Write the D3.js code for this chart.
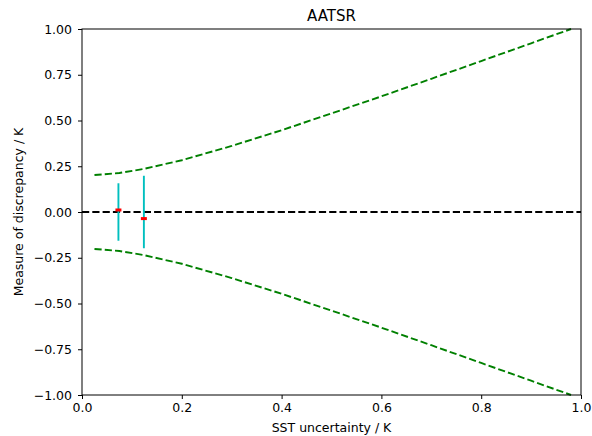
<!DOCTYPE html>
<html>
<head>
<meta charset="utf-8">
<script src="https://cdn.jsdelivr.net/npm/d3@7"></script>
<style>
  body { margin: 0; background: #fff; }
  text { font-family: "DejaVu Sans", sans-serif; fill: #000; }
</style>
</head>
<body>
<div id="viz"></div>
<script>
"use strict";

const w = 592;
const h = 436;

// envelope curves
const envX = [0.025, 0.075, 0.125, 0.2, 0.3, 0.4, 0.5, 0.6, 0.7, 0.8, 0.9, 0.98];
const envUpper = [0.202, 0.213, 0.236, 0.283, 0.361, 0.447, 0.539, 0.632, 0.728, 0.825, 0.922, 1.0];
const envLower = [-0.202, -0.213, -0.236, -0.283, -0.361, -0.447, -0.539, -0.632, -0.728, -0.825, -0.922, -1.0];

// error bars and points
const ptX = [0.073, 0.124];
const ptY = [0.011, -0.036];
const barHalf = [0.157, 0.198];

const xTicks = [0.0, 0.2, 0.4, 0.6, 0.8, 1.0];
const yTicks = [-1.0, -0.75, -0.5, -0.25, 0.0, 0.25, 0.5, 0.75, 1.0];

const margin = { left: 82, right: 11, top: 29, bottom: 41 };
const dash = "7.2,3.1";

const svg = d3.select("#viz")
  .append("svg")
  .attr("width", w)
  .attr("height", h)

const x = d3.scaleLinear().domain([0, 1]).range([margin.left, w - margin.right]);
const y = d3.scaleLinear().domain([-1, 1]).range([h - margin.bottom, margin.top]);

// x axis
const xAxis = svg.append("g")
  .attr("transform", `translate(0,${h - margin.bottom})`)
  .call(d3.axisBottom(x).tickValues(xTicks).tickFormat(d3.format(".1f")).tickSizeOuter(0).tickSize(4).tickPadding(4))
xAxis.select(".domain").remove()
xAxis.selectAll("text").attr("font-size", 12.5).attr("font-family", "DejaVu Sans")

// y axis
const yAxis = svg.append("g")
  .attr("transform", `translate(${margin.left},0)`)
  .call(d3.axisLeft(y).tickValues(yTicks).tickFormat(d3.format(".2f")).tickSizeOuter(0).tickSize(4).tickPadding(6))
yAxis.select(".domain").remove()
yAxis.selectAll("text").attr("font-size", 12.5).attr("font-family", "DejaVu Sans")
  .text(d => d3.format(".2f")(d).replace("-", "\u2212"))

const line = d3.line().x(d => x(d[0])).y(d => y(d[1]))

// zero line
svg.append("path")
  .datum([[0, 0], [1, 0]])
  .attr("d", line)
  .attr("fill", "none")
  .attr("stroke", "#000")
  .attr("stroke-width", 1.9)
  .attr("stroke-dasharray", dash)

// envelopes
const upper = envX.map((v, i) => [v, envUpper[i]])
const lower = envX.map((v, i) => [v, envLower[i]])
svg.selectAll(".env")
  .data([upper, lower])
  .join("path")
  .attr("class", "env")
  .attr("d", line)
  .attr("fill", "none")
  .attr("stroke", "#008000")
  .attr("stroke-width", 1.9)
  .attr("stroke-dasharray", dash)

// error bars
svg.selectAll(".ebar")
  .data(ptX)
  .join("line")
  .attr("class", "ebar")
  .attr("x1", d => x(d))
  .attr("x2", d => x(d))
  .attr("y1", (d, i) => y(barHalf[i]))
  .attr("y2", (d, i) => y(-barHalf[i]))
  .attr("stroke", "#00bfbf")
  .attr("stroke-width", 1.9)

svg.selectAll(".pt")
  .data(ptX)
  .join("rect")
  .attr("class", "pt")
  .attr("x", d => x(d) - 3)
  .attr("y", (d, i) => y(ptY[i]) - 1.5)
  .attr("width", 6)
  .attr("height", 3)
  .attr("fill", "#ff0000")

// frame
svg.append("rect")
  .attr("x", margin.left)
  .attr("y", margin.top)
  .attr("width", w - margin.left - margin.right)
  .attr("height", h - margin.top - margin.bottom)
  .attr("fill", "none")
  .attr("stroke", "#000")
  .attr("stroke-width", 1)

// labels
svg.append("text")
  .attr("x", (margin.left + w - margin.right) / 2)
  .attr("y", 21)
  .attr("text-anchor", "middle")
  .attr("font-size", 15)
  .text("AATSR")

svg.append("text")
  .attr("x", (margin.left + w - margin.right) / 2)
  .attr("y", 432)
  .attr("text-anchor", "middle")
  .attr("font-size", 12.5)
  .text("SST uncertainty / K")

svg.append("text")
  .attr("transform", `translate(23,${(margin.top + h - margin.bottom) / 2}) rotate(-90)`)
  .attr("text-anchor", "middle")
  .attr("font-size", 12.5)
  .text("Measure of discrepancy / K")
</script>
</body>
</html>
